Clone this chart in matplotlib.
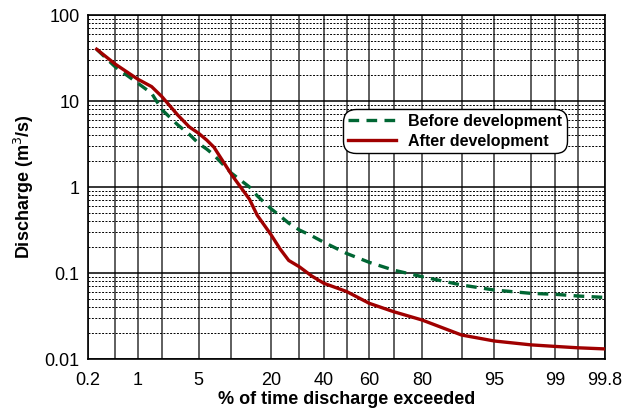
import matplotlib
matplotlib.use('Agg')
import matplotlib.pyplot as plt
import numpy as np
from statistics import NormalDist
from matplotlib.ticker import FixedLocator, NullFormatter

# exceedance percentages and discharges
pct = [0.27, 0.5, 1, 1.5, 2, 3, 4, 5, 6, 7, 10, 14, 16, 20, 23, 26, 30, 35,
       40, 50, 60, 70, 80, 90, 95, 98, 99, 99.5, 99.8]
before = [40, 25, 16.2, 12.3, 7.9, 5.3, 4.1, 3.2, 2.75, 2.35, 1.45, 1.0, 0.79,
          0.56, 0.46, 0.38, 0.316, 0.27, 0.228, 0.169, 0.133, 0.108, 0.0906,
          0.0725, 0.0634, 0.058, 0.0565, 0.054, 0.052]
after = [40, 26.9, 18, 14.7, 11.2, 6.9, 5.0, 4.2, 3.5, 2.9, 1.4, 0.72, 0.47,
         0.28, 0.19, 0.14, 0.118, 0.092, 0.076, 0.061, 0.0444, 0.0355, 0.0284,
         0.019, 0.0162, 0.0146, 0.014, 0.0135, 0.0131]

xticks = [0.2, 1, 5, 20, 40, 60, 80, 95, 99, 99.8]
xticklabels = ['0.2', '1', '5', '20', '40', '60', '80', '95', '99', '99.8']
xgrid_minor = [0.5, 2, 10, 30, 50, 70, 90, 98, 99.5]
yticks = [0.01, 0.1, 1, 10, 100]
yticklabels = ['0.01', '0.1', '1', '10', '100']

nd = NormalDist()
_inv = np.vectorize(lambda v: nd.inv_cdf(v), otypes=[float])
_cdf = np.vectorize(lambda v: nd.cdf(v), otypes=[float])


def fwd(p):
    p = np.clip(np.asarray(p, dtype=float) / 100.0, 1e-9, 1 - 1e-9)
    return _inv(p)


def inv(z):
    return _cdf(np.asarray(z, dtype=float)) * 100.0


plt.rcParams['font.family'] = ['Liberation Sans', 'DejaVu Sans']

fig = plt.figure(figsize=(6.33, 4.15), dpi=100)
ax = fig.add_axes([88/633, 1-359/415, (605-88)/633, (359-15)/415])

ax.set_xscale('function', functions=(fwd, inv))
ax.set_yscale('log')
ax.set_xlim(0.2, 99.8)
ax.set_ylim(0.01, 100)

ax.plot(pct, before, color='#006633', lw=2.4, linestyle=(0, (3.2, 2.2)),
        label='Before development', zorder=3)
ax.plot(pct, after, color='#A00000', lw=2.4, label='After development',
        zorder=4)

ax.xaxis.set_major_locator(FixedLocator(xticks))
ax.set_xticklabels(xticklabels)
ax.xaxis.set_minor_locator(FixedLocator(xgrid_minor))
ax.xaxis.set_minor_formatter(NullFormatter())
ax.set_yticks(yticks)
ax.set_yticklabels(yticklabels)
ax.yaxis.set_minor_locator(matplotlib.ticker.LogLocator(base=10, subs=np.arange(2, 10)))
ax.yaxis.set_minor_formatter(NullFormatter())

ax.grid(axis='x', which='both', color='#333333', lw=1.1, linestyle='-')
ax.grid(axis='y', which='major', color='black', lw=1.1, linestyle='-')
ax.grid(axis='y', which='minor', color='black', lw=0.7, linestyle=(0, (2, 1.5)))
ax.set_axisbelow(True)

ax.tick_params(axis='x', which='both', length=0, labelsize=13, pad=9)
ax.tick_params(axis='y', which='both', length=0, labelsize=13, pad=6)
for s in ax.spines.values():
    s.set_linewidth(1.2)
    s.set_color('black')

ax.set_xlabel('% of time discharge exceeded', fontsize=13, fontweight='bold', labelpad=2)
ax.set_ylabel('Discharge (m$^3$/s)', fontsize=13, fontweight='bold', labelpad=6)

leg = ax.legend(loc='upper left', bbox_to_anchor=((343-88)/517, (359-109)/344),
                fontsize=11.5, frameon=True, fancybox=True, edgecolor='black',
                framealpha=1, handlelength=3.0, borderpad=0.3, labelspacing=0.3,
                handletextpad=0.8, borderaxespad=0)
for t in leg.get_texts():
    t.set_fontweight('bold')
leg.get_frame().set_linewidth(1.0)
leg.get_frame().set_boxstyle('round', pad=0, rounding_size=0.8)

fig.savefig('out.png', dpi=100)
